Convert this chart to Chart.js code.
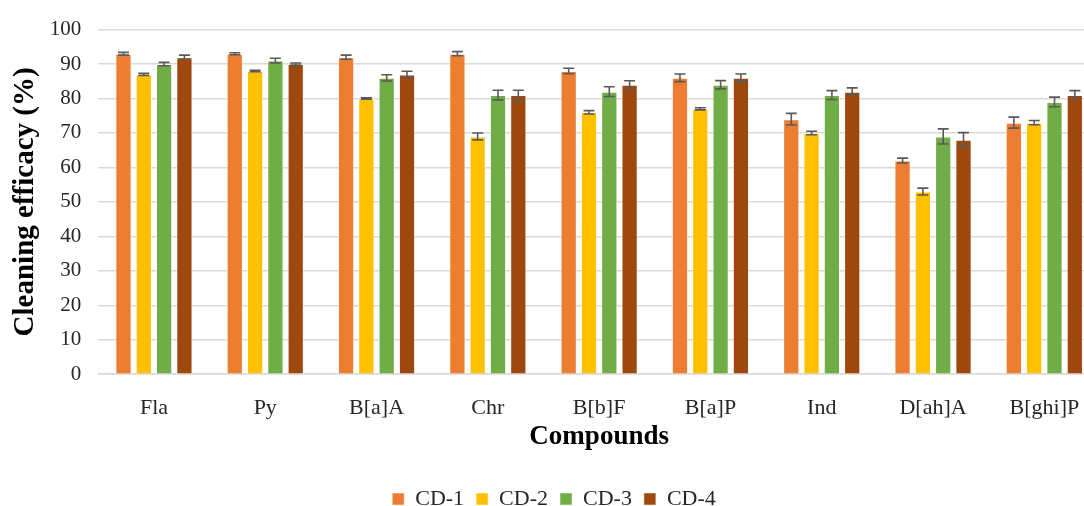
<!DOCTYPE html>
<html>
<head>
<meta charset="utf-8">
<script src="https://cdn.jsdelivr.net/npm/chart.js@4/dist/chart.umd.min.js"></script>
<style>
  html, body { margin: 0; padding: 0; background: #fff; overflow: hidden; }
  #wrap { width: 1110px; height: 520px; }
</style>
</head>
<body>
<div id="wrap"><canvas id="myChart" width="1110" height="520"></canvas></div>
<script>
const compounds = ['Fla', 'Py', 'B[a]A', 'Chr', 'B[b]F', 'B[a]P', 'Ind', 'D[ah]A', 'B[ghi]P'];

const cd1 = [93, 93, 92, 93, 88, 86, 74, 62, 73];
const cd2 = [87, 88, 80, 69, 76, 77, 70, 53, 73];
const cd3 = [90, 91, 86, 81, 82, 84, 81, 69, 79];
const cd4 = [92, 90, 87, 81, 84, 86, 82, 68, 81];

// error bar half-widths (±)
const cd1Err = [0.4, 0.3, 0.6, 0.6, 0.8, 1.1, 1.7, 0.7, 1.6];
const cd2Err = [0.3, 0.2, 0.2, 1.0, 0.5, 0.3, 0.5, 1.0, 0.6];
const cd3Err = [0.5, 0.7, 0.9, 1.4, 1.4, 1.2, 1.3, 2.2, 1.4];
const cd4Err = [0.6, 0.3, 0.9, 1.4, 1.15, 1.1, 1.1, 2.1, 1.3];

const yTicks = [0, 10, 20, 30, 40, 50, 60, 70, 80, 90, 100];

const serif = "'Liberation Serif', 'Times New Roman', serif";

// draws the error bars on top of each bar, using the chart's own scales
const errorBars = {
    id: 'errorBars',
    afterDatasetsDraw(chart) {
        const ctx = chart.ctx;
        const yScale = chart.scales.y;
        ctx.save();
        ctx.strokeStyle = '#5a5a5a';
        ctx.lineWidth = 1.6;
        chart.data.datasets.forEach(function (ds, i) {
            const meta = chart.getDatasetMeta(i);
            meta.data.forEach(function (bar, j) {
                const v = ds.data[j];
                const e = ds.errors[j];
                const top = yScale.getPixelForValue(v + e);
                const bot = yScale.getPixelForValue(v - e);
                const x = bar.x;
                const cap = 5.5;
                ctx.beginPath();
                ctx.moveTo(x, top); ctx.lineTo(x, bot);
                ctx.moveTo(x - cap, top); ctx.lineTo(x + cap, top);
                ctx.moveTo(x - cap, bot); ctx.lineTo(x + cap, bot);
                ctx.stroke();
            });
        });
        ctx.restore();
    }
};

const data = {
    labels: compounds,
    datasets: [
        { label: 'CD-1', data: cd1, errors: cd1Err, backgroundColor: '#ED7D31' },
        { label: 'CD-2', data: cd2, errors: cd2Err, backgroundColor: '#FFC000' },
        { label: 'CD-3', data: cd3, errors: cd3Err, backgroundColor: '#70AD47' },
        { label: 'CD-4', data: cd4, errors: cd4Err, backgroundColor: '#9E480E' }
    ]
};
data.datasets.forEach(function (ds) {
    ds.borderColor = 'rgba(255,255,255,0.5)';
    ds.borderWidth = 1;
    ds.categoryPercentage = 0.73;
    ds.barPercentage = 0.8;
});

const config = {
    type: 'bar',
    data: data,
    plugins: [errorBars],
    options: {
        responsive: false,
        animation: false,
        layout: { padding: { left: 8, right: 10, top: 17, bottom: 0 } },
        plugins: {
            tooltip: { enabled: false },
            legend: {
                position: 'bottom',
                labels: {
                    boxWidth: 12,
                    boxHeight: 12,
                    padding: 12,
                    color: '#262626',
                    font: { family: serif, size: 22 }
                }
            }
        },
        scales: {
            x: {
                grid: { display: false },
                border: { display: true, color: '#d9d9d9', width: 1.5 },
                ticks: { color: '#262626', padding: 13, font: { family: serif, size: 22 } },
                title: {
                    display: true,
                    text: 'Compounds',
                    color: '#000',
                    padding: { top: -14, bottom: 23 },
                    font: { family: serif, size: 27, weight: 'bold' }
                }
            },
            y: {
                min: 0,
                max: 100,
                afterBuildTicks: function (axis) {
                    axis.ticks = yTicks.map(function (v) { return { value: v }; });
                },
                grid: { color: '#d9d9d9', lineWidth: 1.5, drawTicks: false },
                border: { display: false },
                ticks: { color: '#262626', padding: 17, font: { family: serif, size: 21 } },
                title: {
                    display: true,
                    text: 'Cleaning efficacy (%)',
                    color: '#000',
                    padding: { top: 0, bottom: -10 },
                    font: { family: serif, size: 29, weight: 'bold' }
                }
            }
        }
    }
};

const myChart = new Chart(document.getElementById('myChart'), config);
</script>
</body>
</html>
